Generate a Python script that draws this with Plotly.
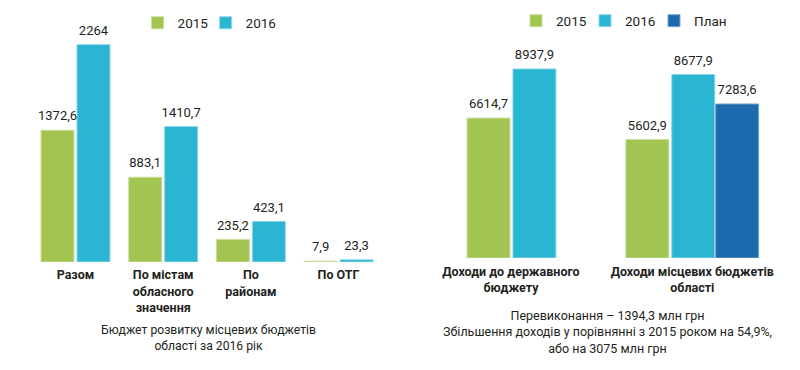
import plotly.graph_objects as go

# ---- Data ----
left_categories = ["Разом", "По містам<br>обласного<br>значення", "По<br>районам", "По ОТГ"]
left_2015 = [1372.6, 883.1, 235.2, 7.9]
left_2016 = [2264, 1410.7, 423.1, 23.3]

right_categories = ["Доходи до державного<br>бюджету", "Доходи місцевих бюджетів<br>області"]
right_2015 = [6614.7, 5602.9]
right_2016 = [8937.9, 8677.9]
right_plan_categories = ["Доходи місцевих бюджетів<br>області"]
right_plan = [7283.6]

left_caption = "Бюджет розвитку місцевих бюджетів<br>області за 2016 рік"
right_caption = ("Перевиконання – 1394,3 млн грн<br>"
                 "Збільшення доходів у порівнянні з 2015 роком на 54,9%,<br>"
                 "або на 3075 млн грн")

# ---- Style ----
GREEN, GREEN_EDGE = "#a2c451", "#c9de9c"
CYAN, CYAN_EDGE = "#2ab5d3", "#8fd5e8"
BLUE, BLUE_EDGE = "#1c69ad", "#79a6d0"
TXT = "#231f20"
FONT = "Roboto"
VAL_SIZE = 13


def fmt(v):
    return f"{v:g}".replace(".", ",")


fig = go.Figure()


def add_bars(xs, vals, name, color, edge, width, offsets, xa, ya, legend):
    # bars
    fig.add_trace(go.Bar(x=xs, y=vals, name=name, marker_color=color,
                         marker_line=dict(color=edge, width=1),
                         width=width, offset=offsets, hoverinfo="y+name",
                         xaxis=xa, yaxis=ya, legend=legend))
    # value labels placed above each bar centre
    offs = offsets if isinstance(offsets, list) else [offsets] * len(xs)
    fig.add_trace(go.Scatter(x=[x + o + width / 2 for x, o in zip(xs, offs)], y=vals,
                             mode="markers+text", text=[fmt(v) for v in vals],
                             textposition="top center", cliponaxis=False,
                             marker=dict(size=9, opacity=0),
                             textfont=dict(size=VAL_SIZE, color=TXT, family=FONT),
                             hoverinfo="skip", showlegend=False, xaxis=xa, yaxis=ya))


def legend_spacer(xa, ya, legend):
    # invisible trailing legend entry so the last label is not clipped
    fig.add_trace(go.Scatter(x=[None], y=[None], mode="lines", line=dict(width=0),
                             name="", hoverinfo="skip", showlegend=True,
                             xaxis=xa, yaxis=ya, legend=legend))


left_x = list(range(len(left_categories)))
right_x = list(range(len(right_categories)))
plan_x = [right_categories.index(c) for c in right_plan_categories]

LW = 0.376
add_bars(left_x, left_2015, "2015", GREEN, GREEN_EDGE, LW, -0.393, "x", "y", "legend")
add_bars(left_x, left_2016, "2016", CYAN, CYAN_EDGE, LW, 0.017, "x", "y", "legend")
legend_spacer("x", "y", "legend")

RW = 0.237
add_bars(right_x, right_2015, "2015", GREEN, GREEN_EDGE, RW, [-0.242, -0.366], "x2", "y2", "legend2")
add_bars(right_x, right_2016, "2016", CYAN, CYAN_EDGE, RW, [0.011, -0.113], "x2", "y2", "legend2")
add_bars(plan_x, right_plan, "План", BLUE, BLUE_EDGE, RW, 0.129, "x2", "y2", "legend2")
legend_spacer("x2", "y2", "legend2")

tickfont = dict(size=12.5, color=TXT, family=FONT, weight=700)
legfont = dict(size=13.5, color=TXT, family=FONT)

fig.update_layout(
    width=800, height=370,
    margin=dict(l=0, r=0, t=0, b=0),
    paper_bgcolor="white", plot_bgcolor="white",
    barmode="overlay",
    font=dict(family=FONT, color=TXT),
    xaxis=dict(domain=[0.0286, 0.489], range=[-0.6, 3.6],
               tickmode="array", tickvals=left_x, ticktext=left_categories,
               showgrid=False, zeroline=False, showline=False, ticks="",
               ticklabelstandoff=4, tickfont=tickfont, fixedrange=True),
    yaxis=dict(domain=[0.2919, 1.0], range=[0, 2729], visible=False, fixedrange=True),
    xaxis2=dict(domain=[0.514, 0.99], range=[-0.55, 1.55],
                tickmode="array", tickvals=right_x, ticktext=right_categories,
                showgrid=False, zeroline=False, showline=False, ticks="",
                ticklabelstandoff=4, tickfont=tickfont, anchor="y2", fixedrange=True),
    yaxis2=dict(domain=[0.3027, 1.0], range=[0, 12199], visible=False, anchor="x2",
                fixedrange=True),
    legend=dict(orientation="h", x=0.172, y=1 - 7.5 / 370, xanchor="left", yanchor="top",
                entrywidth=23, entrywidthmode="pixels",
                font=legfont, bgcolor="rgba(0,0,0,0)"),
    legend2=dict(orientation="h", x=0.645, y=1.007 - 8 / 370, xanchor="left", yanchor="top",
                 entrywidth=24, entrywidthmode="pixels",
                 font=legfont, bgcolor="rgba(0,0,0,0)"),
    annotations=[
        dict(text=left_caption, x=208 / 800, y=1 - 338 / 370, xref="paper", yref="paper",
             showarrow=False, xanchor="center", yanchor="middle",
             font=dict(size=12.2, color=TXT, family=FONT)),
        dict(text=right_caption, x=607 / 800, y=1 - 331.5 / 370, xref="paper", yref="paper",
             showarrow=False, xanchor="center", yanchor="middle",
             font=dict(size=12.5, color=TXT, family=FONT)),
    ],
)

fig.write_html("out.html", config={"displayModeBar": False},
               post_script="document.body.style.margin='0';document.body.style.overflow='hidden';")
